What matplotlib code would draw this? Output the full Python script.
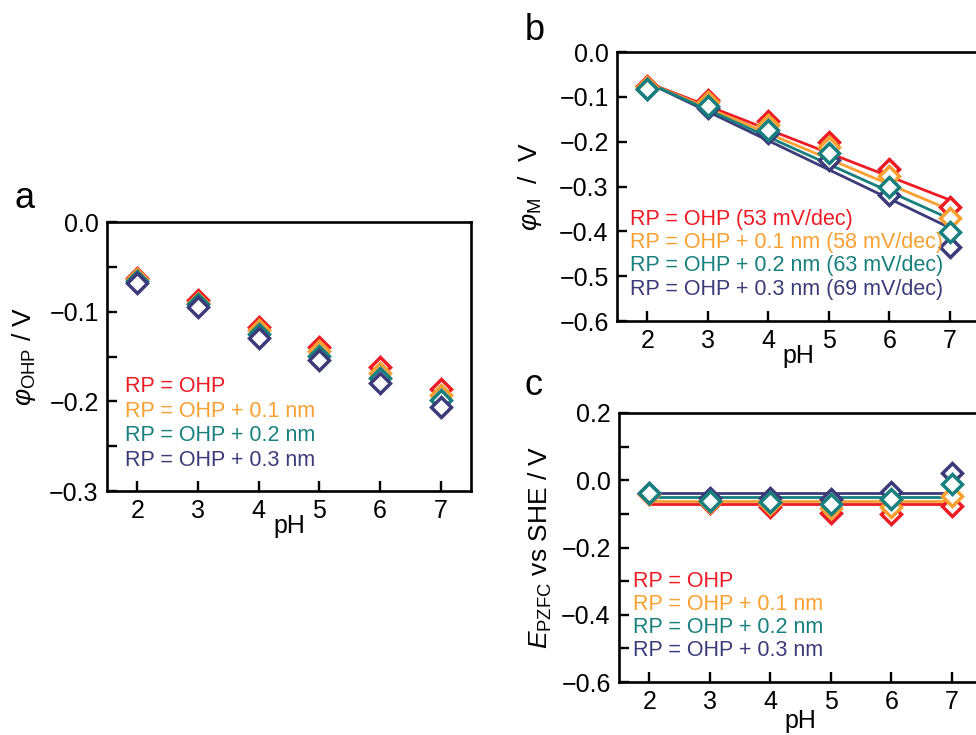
import matplotlib
matplotlib.use("Agg")
import matplotlib.pyplot as plt
import numpy as np
from matplotlib.ticker import MultipleLocator, FuncFormatter

plt.rcParams['font.family'] = ['Liberation Sans', 'DejaVu Sans']
plt.rcParams['mathtext.fontset'] = 'custom'
plt.rcParams['mathtext.rm'] = 'Liberation Sans'
plt.rcParams['mathtext.it'] = 'Liberation Sans:italic'
plt.rcParams['mathtext.sf'] = 'Liberation Sans'

# ---------------- data ----------------
ph = [2, 3, 4, 5, 6, 7]
series_labels = ["RP = OHP", "RP = OHP + 0.1 nm", "RP = OHP + 0.2 nm", "RP = OHP + 0.3 nm"]
slope_labels = ["(53 mV/dec)", "(58 mV/dec)", "(63 mV/dec)", "(69 mV/dec)"]
colors = ["#ED1C24", "#F9A030", "#17807E", "#3B3B7A"]

# panel a: phi_OHP (V)
phi_ohp_red = [-0.062, -0.087, -0.117, -0.139, -0.162, -0.186]
phi_ohp_orange = [-0.064, -0.090, -0.121, -0.144, -0.168, -0.193]
phi_ohp_teal = [-0.066, -0.092, -0.125, -0.149, -0.174, -0.199]
phi_ohp_purple = [-0.068, -0.095, -0.129, -0.154, -0.180, -0.206]

# panel b: phi_M (V)
phi_m_red = [-0.075, -0.107, -0.155, -0.200, -0.262, -0.345]
phi_m_orange = [-0.078, -0.111, -0.163, -0.211, -0.276, -0.371]
phi_m_teal = [-0.083, -0.120, -0.174, -0.226, -0.300, -0.402]
phi_m_purple = [-0.083, -0.125, -0.181, -0.241, -0.319, -0.436]
# linear fits (value at pH 2, slope V per pH)
fit_start = [-0.068, -0.068, -0.068, -0.068]
fit_slope = [-0.0524, -0.0568, -0.0608, -0.0648]
fit_ph = [2, 7]

# panel c: E_PZFC vs SHE (V)
pzfc_red = [-0.040, -0.067, -0.079, -0.097, -0.099, -0.077]
pzfc_orange = [-0.041, -0.064, -0.072, -0.084, -0.079, -0.046]
pzfc_teal = [-0.039, -0.061, -0.066, -0.071, -0.057, -0.011]
pzfc_purple = [-0.038, -0.054, -0.054, -0.056, -0.034, 0.023]
pzfc_level = [-0.072, -0.061, -0.049, -0.039]

phi_ohp = [phi_ohp_red, phi_ohp_orange, phi_ohp_teal, phi_ohp_purple]
phi_m = [phi_m_red, phi_m_orange, phi_m_teal, phi_m_purple]
pzfc = [pzfc_red, pzfc_orange, pzfc_teal, pzfc_purple]

# ---------------- figure ----------------
W, H = 976, 735
fig = plt.figure(figsize=(W / 100, H / 100), dpi=100)


def px_axes(left, top, right, bottom):
    return fig.add_axes([left / W, 1 - bottom / H, (right - left) / W, (bottom - top) / H])


ax_a = px_axes(107, 222, 471, 491)
ax_b = px_axes(617, 52, 980, 321)
ax_c = px_axes(619, 413, 982, 682)

TICK_FS = 18
LEG_FS = 15.5
LAB_FS = 19


def fmt(v, p):
    if abs(v) < 1e-9:
        v = 0.0
    return f"{v:.1f}".replace("-", "\u2212")


def style(ax, ylim, major, minor):
    ax.set_xlim(1.5, 7.5)
    ax.set_ylim(*ylim)
    ax.set_xticks(ph)
    ax.yaxis.set_major_locator(MultipleLocator(major))
    if minor:
        ax.yaxis.set_minor_locator(MultipleLocator(minor))
    ax.yaxis.set_major_formatter(FuncFormatter(fmt))
    ax.tick_params(which='both', direction='in', length=7, width=1.7,
                   labelsize=TICK_FS, top=False, right=False, pad=6)
    for s in ax.spines.values():
        s.set_linewidth(1.9)


mk = dict(marker='D', ms=10, mfc='white', mew=2.5, linestyle='none')

# panel a
for vals, c in zip(phi_ohp, colors):
    ax_a.plot(ph, vals, color=c, mec=c, zorder=3, **mk)
style(ax_a, (-0.3, 0.0), 0.1, 0.05)
ax_a.set_ylabel(r"$\varphi_{\mathrm{OHP}}$ / V", fontsize=LAB_FS)
ax_a.yaxis.set_label_coords(-0.19, 0.5)
ax_a.set_xlabel("pH", fontsize=TICK_FS)
ax_a.xaxis.set_label_coords(0.5, -0.085)
for i, (lab, c) in enumerate(zip(series_labels, colors)):
    ax_a.text(0.049, 0.388 - i * 0.0917, lab, color=c, fontsize=LEG_FS,
              transform=ax_a.transAxes, ha='left', va='center')

# panel b
order_b = [0, 1, 3, 2]
for i in order_b:
    c = colors[i]
    xs = np.array(fit_ph, dtype=float)
    ys = fit_start[i] + fit_slope[i] * (xs - fit_ph[0])
    ax_b.plot(xs, ys, color=c, lw=2.0, zorder=2)
for i in order_b:
    c = colors[i]
    ax_b.plot(ph, phi_m[i], color=c, mec=c, zorder=3, **mk)
style(ax_b, (-0.6, 0.0), 0.1, None)
ax_b.set_ylabel(r"$\varphi_{\mathrm{M}}$  /  V", fontsize=LAB_FS)
ax_b.yaxis.set_label_coords(-0.2, 0.5)
ax_b.set_xlabel("pH", fontsize=TICK_FS)
ax_b.xaxis.set_label_coords(0.5, -0.085)
for i, (lab, sl, c) in enumerate(zip(series_labels, slope_labels, colors)):
    ax_b.text(0.036, 0.378 - i * 0.0867, f"{lab} {sl}", color=c, fontsize=LEG_FS,
              transform=ax_b.transAxes, ha='left', va='center')

# panel c
for i in order_b:
    c = colors[i]
    ax_c.plot([ph[0], ph[-1]], [pzfc_level[i], pzfc_level[i]], color=c, lw=2.0, zorder=2)
for i in order_b:
    c = colors[i]
    ax_c.plot(ph, pzfc[i], color=c, mec=c, zorder=3, **mk)
style(ax_c, (-0.6, 0.2), 0.2, 0.1)
ax_c.set_ylabel(r"$E_{\mathrm{PZFC}}$ vs SHE / V", fontsize=LAB_FS)
ax_c.yaxis.set_label_coords(-0.18, 0.5)
ax_c.set_xlabel("pH", fontsize=TICK_FS)
ax_c.xaxis.set_label_coords(0.5, -0.1)
for i, (lab, c) in enumerate(zip(series_labels, colors)):
    ax_c.text(0.039, 0.373 - i * 0.085, lab, color=c, fontsize=LEG_FS,
              transform=ax_c.transAxes, ha='left', va='center')

# panel letters
fig.text(15 / W, 1 - 208 / H, "a", fontsize=26, ha='left', va='baseline')
fig.text(525 / W, 1 - 40 / H, "b", fontsize=26, ha='left', va='baseline')
fig.text(525 / W, 1 - 395 / H, "c", fontsize=26, ha='left', va='baseline')

fig.savefig("out.png", dpi=100)
